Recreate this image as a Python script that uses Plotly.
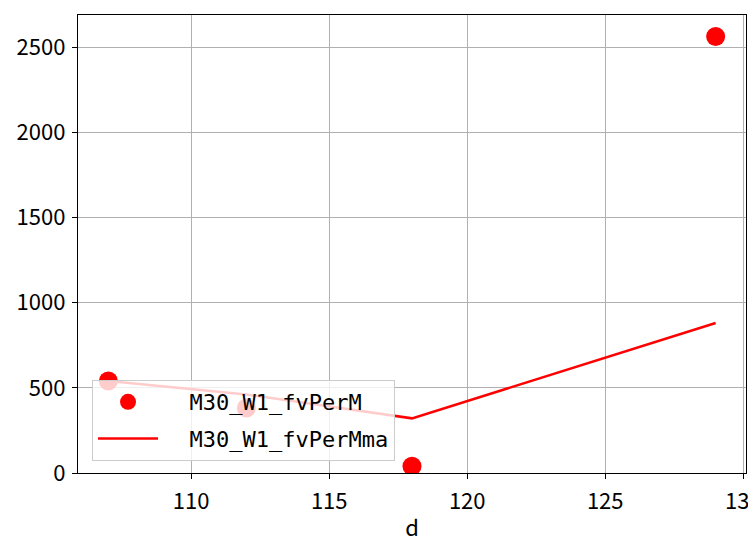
import plotly.graph_objects as go

d = [107, 112, 118, 129]
fvPerM = [540, 382, 40, 2564]
fvPerMma = [540, 461, 321, 881]
x_ticks = [110, 115, 120, 125, 130]
y_ticks = [0, 500, 1000, 1500, 2000, 2500]
series_names = ["M30_W1_fvPerM", "M30_W1_fvPerMma"]

font_main = "Noto Sans CJK JP"
font_legend = "DejaVu Sans Mono"
pad = "\u00a0\u00a0"

fig = go.Figure()
fig.add_trace(go.Scatter(x=d, y=fvPerM, mode="markers", name=pad + series_names[0],
                         legendgroup="a",
                         marker=dict(color="red", size=19)))
fig.add_trace(go.Scatter(x=d, y=fvPerMma, mode="lines", name=pad + series_names[1],
                         legendgroup="b",
                         line=dict(color="red", width=2.5)))

axis_common = dict(showline=True, linecolor="black", linewidth=1.3, mirror=True,
                   ticks="outside", ticklen=5, tickwidth=1.3, tickcolor="black",
                   showgrid=True, gridcolor="#b0b0b0", gridwidth=1.3,
                   zeroline=False, automargin=False, ticklabeloverflow="allow",
                   tickfont=dict(family=font_main, size=22, color="black"))

fig.update_layout(
    width=748, height=542,
    margin=dict(l=78, r=2, t=15, b=69),
    plot_bgcolor="white", paper_bgcolor="white",
    showlegend=True,
    legend=dict(x=0.021, y=0.203, xanchor="left", yanchor="top",
                bgcolor="rgba(255,255,255,0.8)", bordercolor="#cccccc", borderwidth=1,
                font=dict(family=font_legend, size=22, color="black"),
                itemwidth=60, tracegroupgap=5),
    xaxis=dict(axis_common, range=[105.9, 130.1], tickvals=x_ticks,
               ticktext=[str(v) for v in x_ticks], ticklabelstandoff=3,
               title=dict(text="d", font=dict(family=font_main, size=22, color="black"), standoff=11)),
    yaxis=dict(axis_common, range=[0, 2690], tickvals=y_ticks,
               ticktext=[str(v) for v in y_ticks], ticklabelstandoff=2),
)

fig.write_html("out.html", config={"displayModeBar": False},
               post_script="document.body.style.margin='0';")
